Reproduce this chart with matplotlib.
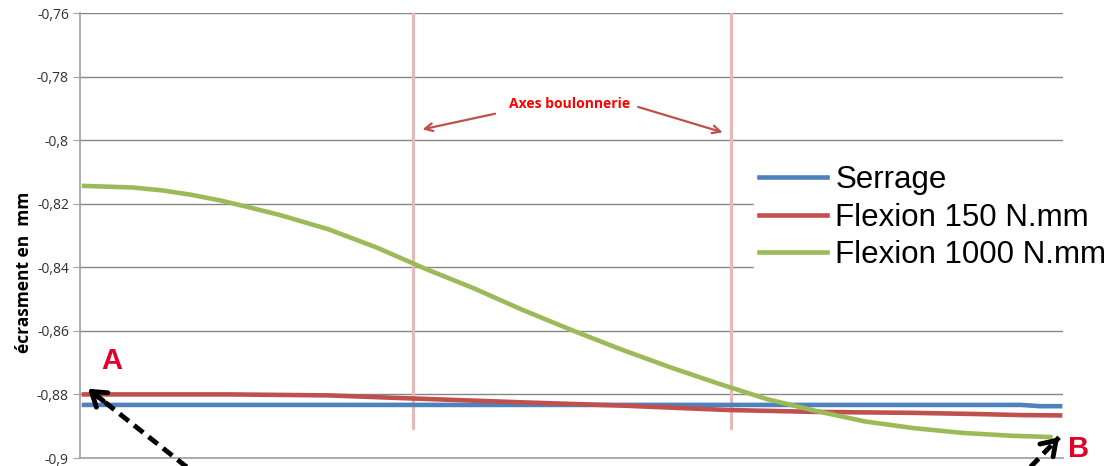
import matplotlib
matplotlib.use("Agg")
import matplotlib.pyplot as plt

# position along the joint (arbitrary units, 0 = point A, 100 = point B)
pos_green = [0, 5, 8, 11, 14, 17, 20, 25, 30, 35, 40, 45, 50, 55, 60, 65, 70, 75, 80, 85, 90, 95, 99]
flexion_1000 = [-0.8144, -0.8149, -0.8158, -0.8172, -0.8190, -0.8212, -0.8235, -0.8280,
                -0.8338, -0.8405, -0.8467, -0.8535, -0.8598, -0.8658, -0.8714, -0.8766,
                -0.8815, -0.8852, -0.8885, -0.8906, -0.8921, -0.8930, -0.8934]

pos_blue = [0, 20, 40, 60, 80, 96, 98, 100]
serrage = [-0.8833, -0.8833, -0.8833, -0.8833, -0.8833, -0.8833, -0.8837, -0.8837]

pos_red = [0, 15, 25, 33, 45, 55, 66, 75, 85, 92, 96, 100]
flexion_150 = [-0.8800, -0.8800, -0.8803, -0.8812, -0.8825, -0.8835, -0.8849, -0.8855,
               -0.8858, -0.8862, -0.8865, -0.8866]

bolt_axes = [33.7, 66.3]
y_ticks = [-0.76, -0.78, -0.8, -0.82, -0.84, -0.86, -0.88, -0.9]
y_labels = ['-0,76', '-0,78', '-0,8', '-0,82', '-0,84', '-0,86', '-0,88', '-0,9']

fig = plt.figure(figsize=(11.18, 4.66), dpi=100)
ax = fig.add_axes([80 / 1118, 8 / 466, (1063 - 80) / 1118, (458 - 13) / 466])

ax.set_xlim(-0.41, 100.3)
ax.set_ylim(-0.9, -0.76)
ax.set_yticks(y_ticks)
ax.set_yticklabels(y_labels, family='Open Sans', fontsize=10, color='#303030')
ax.set_xticks([])
ax.tick_params(axis='y', length=5, color='#a0a0a0', pad=3)
ax.grid(axis='y', color='#868686', lw=1)
ax.set_axisbelow(True)
for s in ['top', 'right']:
    ax.spines[s].set_visible(False)
for s in ['left', 'bottom']:
    ax.spines[s].set_color('#a0a0a0')
    ax.spines[s].set_linewidth(1.2)

for xb in bolt_axes:
    ax.plot([xb, xb], [-0.8906, -0.76], color='#e6b9b8', lw=2.2, zorder=2)

ax.plot(pos_blue, serrage, color='#4f81bd', lw=3.3, label='Serrage', zorder=3)
ax.plot(pos_red, flexion_150, color='#c0504d', lw=3.3, label='Flexion 150 N.mm', zorder=3)
ax.plot(pos_green, flexion_1000, color='#9bbb59', lw=3.3, label='Flexion 1000 N.mm', zorder=3)

ax.set_ylabel('écrasment en  mm', family='Open Sans', fontsize=12.5, fontweight='bold')
ax.yaxis.set_label_coords(-0.048, 0.418)

leg = ax.legend(loc='upper left', bbox_to_anchor=(754 / 1118, 1 - 160 / 466),
                bbox_transform=fig.transFigure, frameon=True, fancybox=False,
                prop={'family': 'Liberation Sans', 'size': 22.5}, handlelength=2.2,
                handletextpad=0.25, labelspacing=0.25, borderpad=0.15, borderaxespad=0)
leg.get_frame().set_edgecolor('white')
leg.get_frame().set_facecolor('white')
leg.get_frame().set_alpha(1)
leg.set_zorder(5)

# bolt axis annotation
ax.text(49.7, -0.7885, 'Axes boulonnerie', color='#ff0000', fontsize=10, fontweight='bold',
        family='Open Sans', ha='center', va='center', zorder=6)
ax.annotate('', xy=(34.4, -0.7968), xytext=(42.4, -0.7915),
            arrowprops=dict(arrowstyle='->', color='#c0504d', lw=1.6, mutation_scale=14))
ax.annotate('', xy=(65.7, -0.7978), xytext=(56.5, -0.7893),
            arrowprops=dict(arrowstyle='->', color='#c0504d', lw=1.6, mutation_scale=14))

# points A and B
ax.text(2.8, -0.8695, 'A', color='#e0002a', fontsize=21, fontweight='bold',
        family='Liberation Sans', ha='center', va='center', clip_on=False)
ax.text(101.9, -0.8972, 'B', color='#e0002a', fontsize=21, fontweight='bold',
        family='Liberation Sans', ha='center', va='center', clip_on=False)

# dashed pointers: dashed shaft + solid head
for tip, tail in [((0.4, -0.8782), (11.0, -0.9040)), ((99.9, -0.8935), (96.6, -0.9040))]:
    ax.plot([tail[0], tip[0]], [tail[1], tip[1]], color='black', lw=3.5,
            ls=(0, (2.4, 1.4)), clip_on=False, zorder=6)
    near = (tip[0] + (tail[0] - tip[0]) * 0.15, tip[1] + (tail[1] - tip[1]) * 0.15)
    ax.annotate('', xy=tip, xytext=near, annotation_clip=False, zorder=6,
                arrowprops=dict(arrowstyle='->,head_length=0.45,head_width=0.3',
                                color='black', lw=3.5, mutation_scale=22,
                                shrinkA=0, shrinkB=0))

fig.savefig('out.png', dpi=100)
